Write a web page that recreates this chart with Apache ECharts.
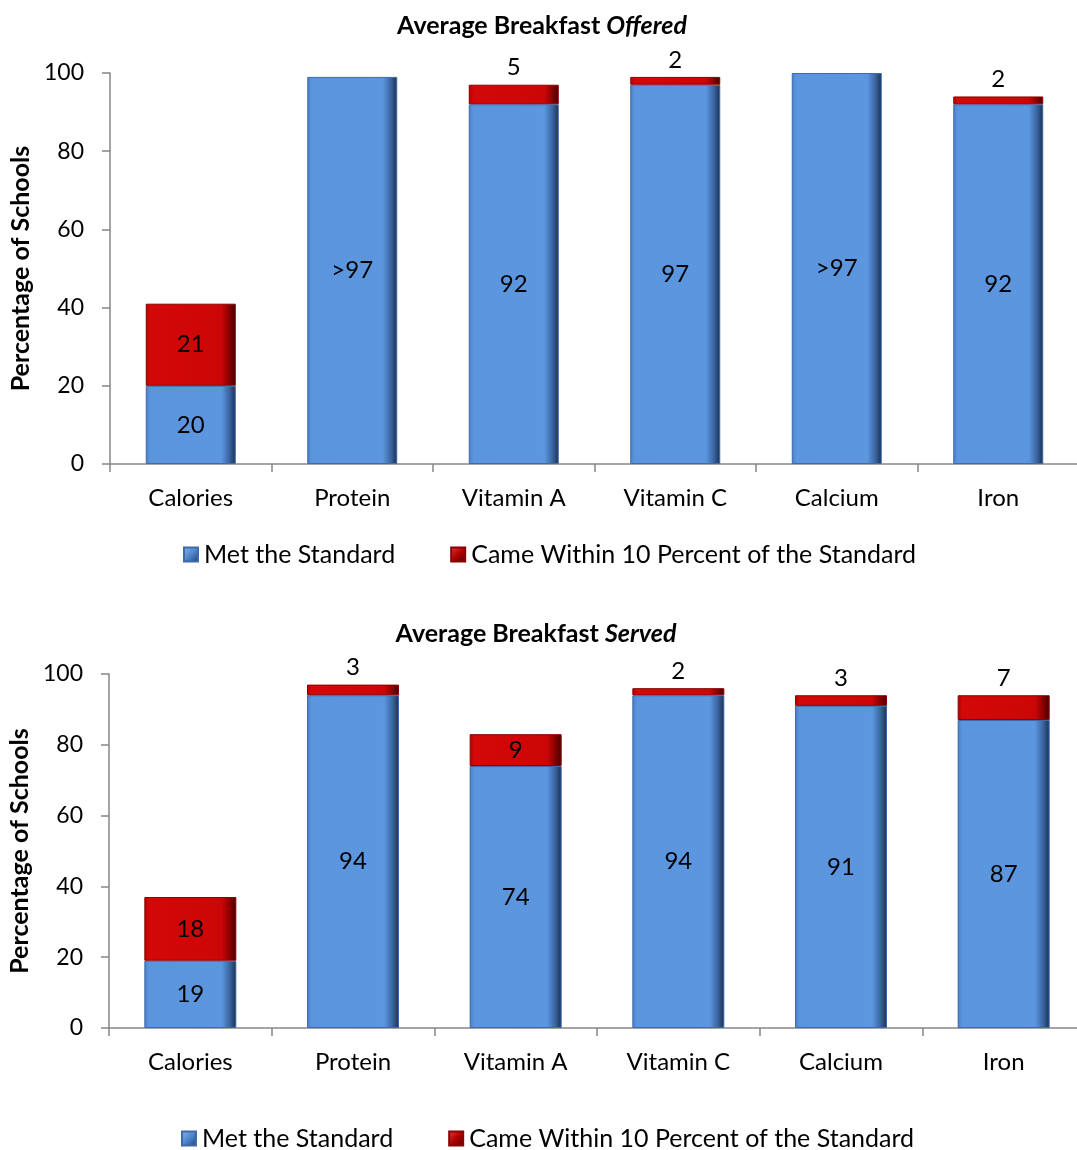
<!DOCTYPE html>
<html><head><meta charset="utf-8">
<script src="https://cdn.jsdelivr.net/npm/echarts@6/dist/echarts.min.js"></script>
<style>html,body{margin:0;padding:0;background:#fff}#c{width:1077px;height:1150px}</style>
</head><body><div id="c"></div>
<script>
const categories = ['Calories', 'Protein', 'Vitamin A', 'Vitamin C', 'Calcium', 'Iron'];
const seriesNames = ['Met the Standard', 'Came Within 10 Percent of the Standard'];
// Average Breakfast Offered
const offeredMet = [20, 99, 92, 97, 100, 92];
const offeredMetLabels = ['20', '>97', '92', '97', '>97', '92'];
const offeredWithin = [21, null, 5, 2, null, 2];
// Average Breakfast Served
const servedMet = [19, 94, 74, 94, 91, 87];
const servedMetLabels = ['19', '94', '74', '94', '91', '87'];
const servedWithin = [18, 3, 9, 2, 3, 7];
const yTicks = [0, 20, 40, 60, 80, 100];

const FONT = 'Lato';
const blueGrad = new echarts.graphic.LinearGradient(0, 0, 1, 0, [
  {offset: 0, color: '#4a7fc6'}, {offset: 0.05, color: '#5a95de'},
  {offset: 0.84, color: '#5b96df'}, {offset: 0.93, color: '#3a64a0'}, {offset: 1, color: '#1a2f4f'}]);
const redGrad = new echarts.graphic.LinearGradient(0, 0, 1, 0, [
  {offset: 0, color: '#b00000'}, {offset: 0.05, color: '#d40808'},
  {offset: 0.84, color: '#cc0606'}, {offset: 0.93, color: '#880000'}, {offset: 1, color: '#420000'}]);
const blueIcon = new echarts.graphic.LinearGradient(0, 0, 1, 1, [
  {offset: 0, color: '#8db6ea'}, {offset: 0.5, color: '#4f86cc'}, {offset: 1, color: '#1f3e6e'}]);
const redIcon = new echarts.graphic.LinearGradient(0, 0, 1, 1, [
  {offset: 0, color: '#e84040'}, {offset: 0.5, color: '#b00000'}, {offset: 1, color: '#500000'}]);

function makeSeries(idx, met, metLabels, within, barW) {
  return [
    {
      name: seriesNames[0], type: 'bar', stack: 's' + idx, xAxisIndex: idx, yAxisIndex: idx,
      barWidth: barW,
      data: met,
      itemStyle: {color: blueGrad, borderColor: '#3d6aa8', borderWidth: 1},
      label: {show: true, position: 'inside', fontFamily: FONT, fontSize: 24, color: '#000',
        formatter: p => metLabels[p.dataIndex]}
    },
    {
      name: seriesNames[1], type: 'bar', stack: 's' + idx, xAxisIndex: idx, yAxisIndex: idx,
      barWidth: barW,
      data: within.map(v => (v == null ? '-' : {
        value: v,
        label: v >= 8 ? {position: 'inside'} : {position: 'top', distance: 5}
      })),
      itemStyle: {color: redGrad, borderColor: '#8c0000', borderWidth: 1},
      label: {show: true, fontFamily: FONT, fontSize: 24, color: '#000',
        formatter: p => (p.value ? String(p.value) : '')}
    }
  ];
}

function xAxis(gi) {
  return {
    type: 'category', data: categories, gridIndex: gi,
    axisLine: {lineStyle: {color: '#868686', width: 1.5}},
    axisTick: {show: true, length: 8, lineStyle: {color: '#868686', width: 1.5}},
    axisLabel: {fontFamily: FONT, fontSize: 24, color: '#000', margin: 22}
  };
}
function yAxis(gi, gap) {
  return {
    type: 'value', gridIndex: gi, min: yTicks[0], max: yTicks[yTicks.length - 1], interval: 20,
    name: 'Percentage of Schools', nameLocation: 'middle', nameGap: gap,
    nameTextStyle: {fontFamily: FONT, fontWeight: 'bold', fontSize: 25, color: '#000'},
    axisLine: {show: true, lineStyle: {color: '#868686', width: 1.5}},
    axisTick: {show: true, length: 8, lineStyle: {color: '#868686', width: 1.5}},
    axisLabel: {fontFamily: FONT, fontSize: 23, color: '#000', margin: 26},
    splitLine: {show: false}
  };
}
function legend(top, left) {
  return {
    top: top, left: left, itemWidth: 14, itemHeight: 14, itemGap: 55,
    textStyle: {fontFamily: FONT, fontSize: 25, color: '#000', padding: [0, 0, 0, 1]},
    data: [
      {name: seriesNames[0], icon: 'rect', itemStyle: {color: blueIcon}},
      {name: seriesNames[1], icon: 'rect', itemStyle: {color: redIcon}}
    ],
    selectedMode: false
  };
}
function title(text2, top, left) {
  return {
    text: '{b|Average Breakfast }{i|' + text2 + '}', top: top, left: left, textAlign: 'center',
    textStyle: {rich: {
      b: {fontFamily: FONT, fontWeight: 'bold', fontSize: 25, color: '#000'},
      i: {fontFamily: FONT, fontWeight: 'bold', fontStyle: 'italic', fontSize: 25, color: '#000'}
    }}
  };
}

const chart = echarts.init(document.getElementById('c'), null, {renderer: 'canvas'});
chart.setOption({
  animation: false,
  title: [title('Offered', 8, 537), title('Served', 616, 531)],
  legend: [legend(537, 178), legend(1121, 176)],
  grid: [
    {left: 110, width: 969, top: 73, height: 391, outerBoundsMode: 'none', containLabel: false},
    {left: 109, width: 976, top: 674, height: 354, outerBoundsMode: 'none', containLabel: false}
  ],
  xAxis: [xAxis(0), xAxis(1)],
  yAxis: [yAxis(0, 76), yAxis(1, 76)],
  series: [
    ...makeSeries(0, offeredMet, offeredMetLabels, offeredWithin, 90),
    ...makeSeries(1, servedMet, servedMetLabels, servedWithin, 92)
  ]
});
</script></body></html>
